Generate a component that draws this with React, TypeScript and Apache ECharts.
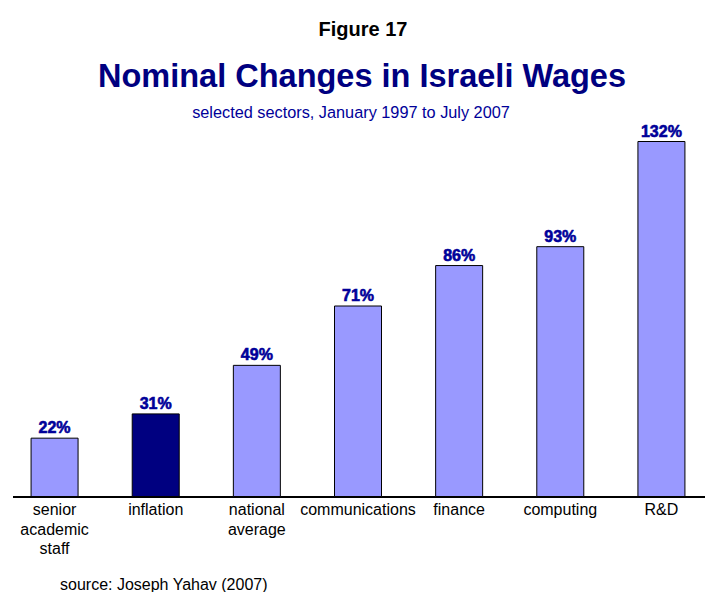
import React, { useEffect, useRef } from "react";
import * as echarts from "echarts";

const categories = ["senior\nacademic\nstaff", "inflation", "national\naverage", "communications", "finance", "computing", "R&D"];
const values = [22, 31, 49, 71, 86, 93, 132];
const highlighted = [false, true, false, false, false, false, false];

const FONT = "'Liberation Sans', Arial, sans-serif";

export default function App() {
  const ref = useRef<HTMLDivElement>(null);
  useEffect(() => {
    const chart = echarts.init(ref.current!, null, { renderer: "svg" });
    chart.setOption({
      animation: false,
      backgroundColor: "#ffffff",
      title: [
        { text: "Figure 17", left: 358, textAlign: "center", top: 14, textStyle: { fontFamily: FONT, fontSize: 20, fontWeight: "bold", color: "#000000" } },
        { text: "Nominal Changes in Israeli Wages", left: 357, textAlign: "center", top: 54, textStyle: { fontFamily: FONT, fontSize: 32.5, fontWeight: "bold", color: "#000080" } },
        { text: "selected sectors, January 1997 to July 2007", left: 346, textAlign: "center", top: 99, textStyle: { fontFamily: FONT, fontSize: 16.3, fontWeight: "normal", color: "#000099" } },
      ],
      grid: { left: 4, right: -2, top: 141, bottom: 95, containLabel: false },
      xAxis: {
        type: "category",
        data: categories,
        axisLine: { show: false },
        axisTick: { show: false },
        axisLabel: { interval: 0, fontFamily: FONT, fontSize: 16, color: "#000000", lineHeight: 19.5, margin: 3 },
      },
      yAxis: { type: "value", min: 0, max: 132, show: false, splitLine: { show: false } },
      series: [
        {
          type: "bar",
          barWidth: 48,
          data: values.map((v, i) => ({
            value: v,
            itemStyle: { color: highlighted[i] ? "#000080" : "#9999ff", borderColor: "#000000", borderWidth: 1 },
          })),
          label: {
            show: true,
            position: "top",
            distance: 2,
            formatter: "{c}%",
            fontFamily: FONT,
            fontSize: 16,
            fontWeight: "bold",
            color: "#000099",
            textBorderColor: "#000099",
            textBorderWidth: 0.6,
          },
        },
      ],
      graphic: [
        { type: "line", shape: { x1: 13, y1: 497, x2: 705, y2: 497 }, style: { stroke: "#000000", lineWidth: 2 } },
        { type: "text", left: 60, top: 576, style: { text: "source: Joseph Yahav (2007)", fontFamily: FONT, fontSize: 16, fill: "#000000" } },
      ],
    });
    return () => chart.dispose();
  }, []);
  return <div ref={ref} style={{ width: 712, height: 592, position: "absolute", left: 0, top: 0 }} />;
}
